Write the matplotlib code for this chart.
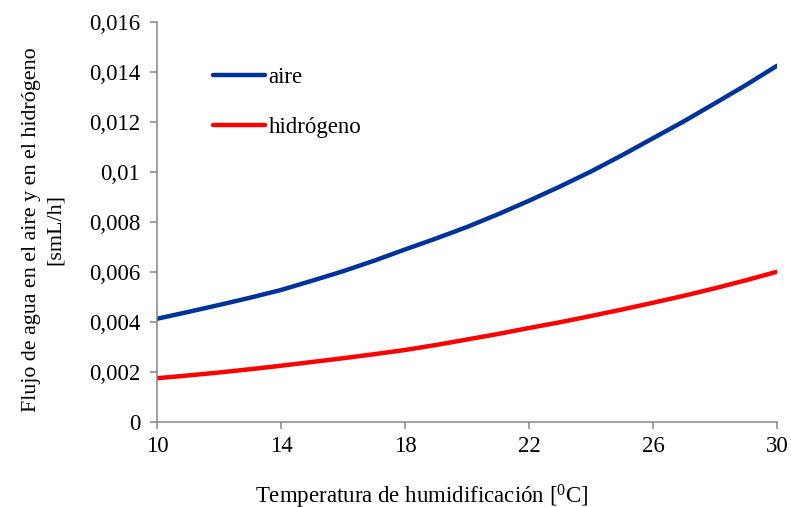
import matplotlib
matplotlib.use("Agg")
import matplotlib.pyplot as plt
from matplotlib.ticker import FuncFormatter, MultipleLocator

# Values
temperatura = [10, 11, 12, 13, 14, 15, 16, 17, 18, 19, 20,
               21, 22, 23, 24, 25, 26, 27, 28, 29, 30]
flujo_aire = [0.00413, 0.00440, 0.00468, 0.00497, 0.00528, 0.00565, 0.00603,
              0.00645, 0.00690, 0.00734, 0.00780, 0.00831, 0.00885, 0.00942,
              0.01002, 0.01067, 0.01135, 0.01203, 0.01275, 0.01348, 0.01425]
flujo_hidrogeno = [0.00175, 0.00186, 0.00198, 0.00211, 0.00225, 0.00240, 0.00255,
                   0.00271, 0.00288, 0.00308, 0.00330, 0.00352, 0.00376, 0.00399,
                   0.00424, 0.00450, 0.00477, 0.00505, 0.00535, 0.00567, 0.00601]
x_ticks = [10, 14, 18, 22, 26, 30]

plt.rcParams["font.family"] = ["Liberation Serif", "DejaVu Serif"]
plt.rcParams["mathtext.fontset"] = "custom"
plt.rcParams["mathtext.rm"] = "Liberation Serif"

GRAY = "#868686"
FS = 16.5

fig = plt.figure(figsize=(7.91, 5.07), dpi=100)
ax = fig.add_axes([0.1985, 0.1677, 0.9823 - 0.1985, 0.9566 - 0.1677])

ax.plot(temperatura, flujo_aire, color="#003399", lw=3.2, solid_capstyle="round", label="aire")
ax.plot(temperatura, flujo_hidrogeno, color="#FF0000", lw=3.2, solid_capstyle="round", label="hidrógeno")

ax.set_xlim(10, 30)
ax.set_ylim(0, 0.016)
ax.set_xticks(x_ticks)
ax.yaxis.set_major_locator(MultipleLocator(0.002))
ax.yaxis.set_major_formatter(FuncFormatter(lambda v, p: f"{v:g}".replace(".", ",")))

for spine in ["top", "right"]:
    ax.spines[spine].set_visible(False)
for spine in ["left", "bottom"]:
    ax.spines[spine].set_color(GRAY)
    ax.spines[spine].set_linewidth(1.1)

ax.tick_params(axis="both", direction="out", length=5, width=1.1, color=GRAY,
               labelsize=FS, labelcolor="black")
ax.tick_params(axis="y", pad=7)
ax.tick_params(axis="x", pad=5)

ax.set_xlabel(r"Temperatura de humidificación [$\mathrm{^{0}}$C]", fontsize=FS)
ax.xaxis.set_label_coords(0.427, -0.152)
ax.set_ylabel("Flujo de agua en el aire y en el hidrógeno\n[smL/h]", fontsize=15.8,
              labelpad=17, linespacing=1.4)
ax.yaxis.label.set_y(0.48)

leg = ax.legend(loc="upper left", bbox_to_anchor=(0.0575, 0.94), frameon=False,
                fontsize=FS, handlelength=2.27, handletextpad=0.15, labelspacing=1.26)

fig.savefig("out.png", dpi=100, facecolor="white")
